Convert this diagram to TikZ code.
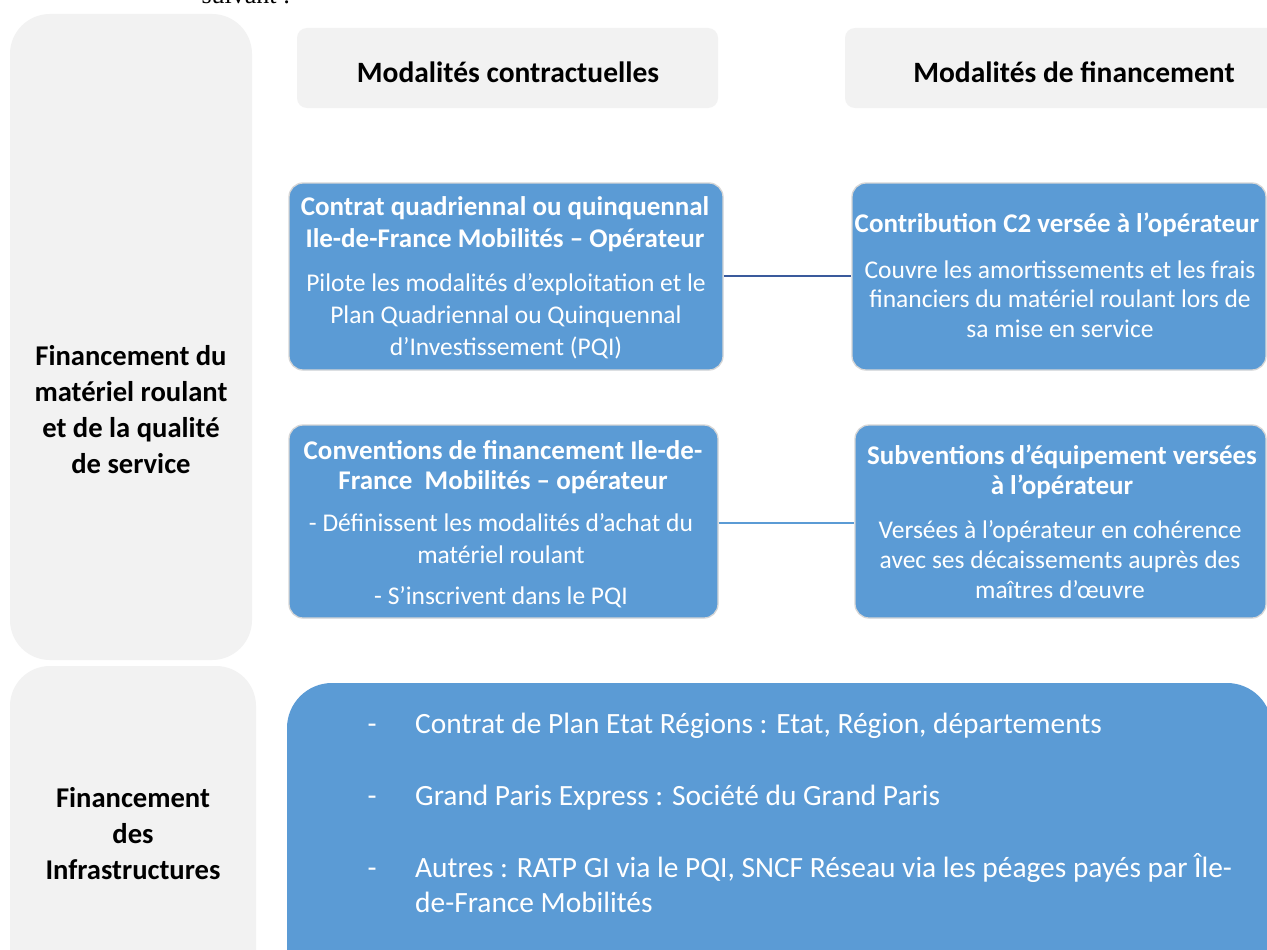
\documentclass[tikz,border=0pt]{standalone}
\usepackage{fontspec}
\setmainfont{Carlito}
\newfontfamily\serifface{Liberation Serif}
\definecolor{boxblue}{HTML}{5B9BD5}
\definecolor{panelgray}{HTML}{F2F2F2}
\definecolor{linkdark}{HTML}{3A5A9C}
\begin{document}
\begin{tikzpicture}[x=1pt,y=-1pt,
  panel/.style={fill=panelgray,draw=none,rounded corners=40pt,inner sep=0pt},
  headbox/.style={fill=panelgray,draw=none,rounded corners=10pt,inner sep=0pt},
  bluebox/.style={fill=boxblue,draw=black!16,line width=1.3pt,rounded corners=14pt,inner sep=0pt},
  bigblue/.style={fill=boxblue,draw=none,rounded corners=45pt,inner sep=0pt},
  sidelabel/.style={align=center,font=\bfseries\fontsize{28.6}{36}\selectfont,inner sep=0pt},
  headlabel/.style={font=\bfseries\fontsize{29.5}{34}\selectfont,inner sep=0pt},
  btitle/.style={align=center,text=white,font=\bfseries\fontsize{27}{32}\selectfont,inner sep=0pt},
  bbody/.style={align=center,text=white,font=\fontsize{25.5}{32}\selectfont,inner sep=0pt},
  item/.style={text=white,font=\fontsize{29.4}{34.5}\selectfont,inner sep=0pt,align=left},
  link/.style={line width=2pt}
]
\clip (0,0) rectangle (1267,950);
\fill[white] (0,0) rectangle (1267,950);

% clipped heading text at top
\node[anchor=base,inner sep=0pt,font=\serifface\fontsize{26}{30}\selectfont] (suiv) at (246,4) {suivant :};

% left panels
\node[panel,minimum width=242pt,minimum height=646pt] (p1) at (131,337) {};
\node[panel,minimum width=246pt,minimum height=330pt] (p2) at (133,831) {};
\node[sidelabel] (l1) at (131,410) {Financement du\\matériel roulant\\et de la qualité\\de service};
\node[sidelabel] (l2) at (133,834) {Financement\\des\\Infrastructures};

% headers
\node[headbox,minimum width=421pt,minimum height=80pt] (h1) at (507.5,68) {};
\node[headbox,minimum width=460pt,minimum height=80pt] (h2) at (1075,68) {};
\node[headlabel] (h1t) at (508,72) {Modalités contractuelles};
\node[headlabel] (h2t) at (1074,72) {Modalités de financement};

% blue boxes
\node[bluebox,minimum width=434pt,minimum height=187pt] (b1) at (506,276.5) {};
\node[bluebox,minimum width=414pt,minimum height=187pt] (b2) at (1059,276.5) {};
\node[bluebox,minimum width=429pt,minimum height=193pt] (b3) at (503.5,521.5) {};
\node[bluebox,minimum width=411pt,minimum height=193pt] (b4) at (1060.5,521.5) {};

\node[btitle] (b1t) at (505,224) {Contrat quadriennal ou quinquennal\\Ile-de-France Mobilités -- Opérateur};
\node[bbody] (b1b) at (506,316) {Pilote les modalités d’exploitation et le\\Plan Quadriennal ou Quinquennal\\d'Investissement (PQI)};

\node[btitle] (b2t) at (1057,225) {Contribution C2 versée à l’opérateur};
\node[bbody,font=\fontsize{25.5}{29.5}\selectfont] (b2b) at (1060,299) {Couvre les amortissements et les frais\\financiers du matériel roulant lors de\\sa mise en service};

\node[btitle,font=\bfseries\fontsize{27}{30}\selectfont] (b3t) at (503,467) {Conventions de financement Ile-de-\\France\ \ Mobilités -- opérateur};
\node[bbody] (b3b) at (501,539) {- Définissent les modalités d’achat du\\matériel roulant};
\node[bbody] (b3c) at (501,597) {- S’inscrivent dans le PQI};

\node[btitle,font=\bfseries\fontsize{27}{30}\selectfont] (b4t) at (1062,472) {Subventions d’équipement versées\\à l’opérateur};
\node[bbody,font=\fontsize{25.5}{30}\selectfont] (b4b) at (1060,560) {Versées à l’opérateur en cohérence\\avec ses décaissements auprès des\\maîtres d’œuvre};

% connectors
\draw[link,draw=linkdark] (b1.east |- 0,276) coordinate (c1a) -- (c1a -| b2.west);
\draw[link,draw=boxblue,line width=2.6pt] (b3.east |- 0,523) coordinate (c2a) -- (c2a -| b4.west);

% infrastructure box
\node[bigblue,minimum width=985pt,minimum height=330pt] (big) at (779.5,848) {};
\node[item,anchor=base] (d1) at (372,733) {-};
\node[item,anchor=base] (d2) at (372,805) {-};
\node[item,anchor=base] (d3) at (372,877) {-};
\node[item,anchor=base west] (i1) at (415,733) {Contrat de Plan Etat Régions : Etat, Région, départements};
\node[item,anchor=base west] (i2) at (415,805) {Grand Paris Express : Société du Grand Paris};
\node[item,anchor=base west] (i3) at (415,877) {Autres : RATP GI via le PQI, SNCF Réseau via les péages payés par Île-};
\node[item,anchor=base west] (i4) at (415,912) {de-France Mobilités};
\end{tikzpicture}
\end{document}
